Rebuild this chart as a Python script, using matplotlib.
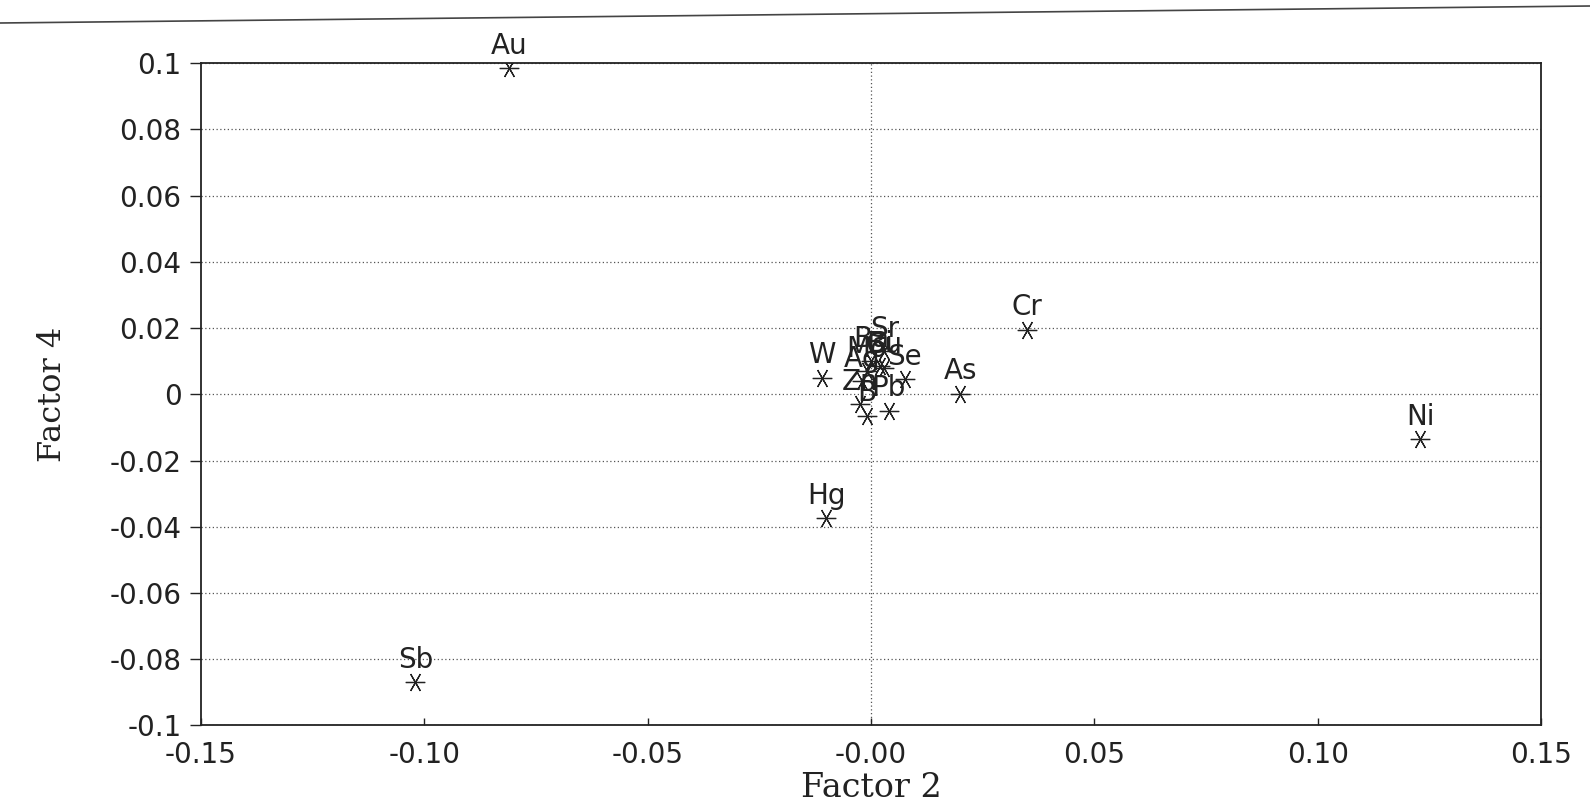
import matplotlib
matplotlib.use('Agg')
import matplotlib.pyplot as plt
from matplotlib.lines import Line2D

# элементы и их нагрузки на факторы 2 и 4
elements = ['Au', 'Sb', 'Hg', 'Cr', 'As', 'Ni', 'W', 'Sr', 'Ba', 'Bi', 'Mo', 'Cu',
            'Ag', 'Se', 'Zn', 'Pb', 'B']
factor2 = [-0.081, -0.102, -0.010, 0.035, 0.020, 0.123, -0.011, 0.003, 0.000, 0.002,
           -0.001, 0.003, -0.002, 0.0075, -0.0025, 0.004, -0.001]
factor4 = [0.0985, -0.087, -0.0375, 0.0195, 0.0002, -0.0135, 0.005, 0.013, 0.010, 0.0085,
           0.007, 0.008, 0.004, 0.0045, -0.003, -0.005, -0.0065]

y_ticks = [0.1, 0.08, 0.06, 0.04, 0.02, 0.0, -0.02, -0.04, -0.06, -0.08, -0.1]
y_tick_labels = ['0.1', '0.08', '0.06', '0.04', '0.02', '0', '-0.02', '-0.04', '-0.06',
                 '-0.08', '-0.1']
x_ticks = [-0.15, -0.10, -0.05, 0.0, 0.05, 0.10, 0.15]
x_tick_labels = ['-0.15', '-0.10', '-0.05', '-0.00', '0.05', '0.10', '0.15']


def main():
    fig = plt.figure(figsize=(15.9, 8.07), dpi=100)
    ax = fig.add_axes([0.1264, 0.101, 0.8428, 0.8209])

    # линия края страницы сверху
    fig.add_artist(Line2D([0, 1], [1 - 23 / 807, 1 - 6 / 807], transform=fig.transFigure,
                          color='#444444', lw=1.2))

    ax.set_xlim(-0.15, 0.15)
    ax.set_ylim(-0.1, 0.1)

    for y in y_ticks:
        ax.axhline(y, color='#555555', lw=0.9, ls=(0, (1, 2)), zorder=1)
    ax.axvline(0.0, color='#555555', lw=0.9, ls=(0, (1, 2)), zorder=1)

    ax.plot(factor2, factor4, ls='none', marker=(6, 2, 90), ms=14, mec='#222222',
            mew=0.9, zorder=3)
    for name, x, y in zip(elements, factor2, factor4):
        ax.annotate(name, (x, y), xytext=(0, 6), textcoords='offset points',
                    ha='center', va='bottom', fontsize=20, color='#222222',
                    family='DejaVu Sans', zorder=4)

    ax.set_yticks(y_ticks)
    ax.set_yticklabels(y_tick_labels)
    ax.set_xticks(x_ticks)
    ax.set_xticklabels(x_tick_labels)
    ax.tick_params(axis='y', direction='out', length=8, width=1, pad=6,
                   labelsize=20, colors='#222222')
    ax.tick_params(axis='x', direction='in', length=5, width=1, pad=11,
                   labelsize=20, colors='#222222')
    for spine in ax.spines.values():
        spine.set_color('#222222')
        spine.set_linewidth(1.3)

    ax.set_xlabel('Factor 2', family='DejaVu Serif', fontsize=24, color='#222222',
                  labelpad=2)
    ax.set_ylabel('Factor 4', family='DejaVu Serif', fontsize=23, color='#222222',
                  labelpad=30)

    fig.savefig('out.png', dpi=100)


if __name__ == '__main__':
    main()
